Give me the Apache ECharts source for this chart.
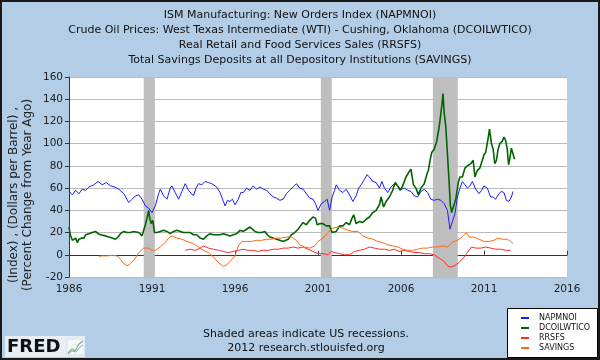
<!DOCTYPE html>
<html><head><meta charset="utf-8">
<script src="https://cdn.jsdelivr.net/npm/echarts@6/dist/echarts.min.js"></script>
<style>html,body{margin:0;padding:0;background:#B4CDE6}#c{width:600px;height:360px}</style>
</head><body><div id="c"></div>
<script>
const titleLines = [
  'ISM Manufacturing: New Orders Index (NAPMNOI)',
  'Crude Oil Prices: West Texas Intermediate (WTI) - Cushing, Oklahoma (DCOILWTICO)',
  'Real Retail and Food Services Sales (RRSFS)',
  'Total Savings Deposits at all Depository Institutions (SAVINGS)'
];
const seriesNames = ['NAPMNOI', 'DCOILWTICO', 'RRSFS', 'SAVINGS'];
const baseYear = 1986;
const endYear = 2016;
const recessions = [[1990.5, 1991.17], [2001.17, 2001.83], [2007.92, 2009.42]];

const napmnoi = [[1986.0,57],[1986.2,54],[1986.4,58],[1986.6,55],[1986.8,59],[1987.0,58],[1987.2,61],[1987.5,63],[1987.75,66],[1988.0,63],[1988.25,65],[1988.5,62],[1988.75,61],[1989.0,59],[1989.3,55],[1989.6,47],[1989.8,50],[1990.0,53],[1990.2,54],[1990.4,50],[1990.6,44],[1990.8,42],[1991.0,38],[1991.2,44],[1991.4,55],[1991.5,59],[1991.7,53],[1991.9,50],[1992.1,60],[1992.2,62],[1992.4,56],[1992.6,50],[1992.8,57],[1993.0,64],[1993.2,58],[1993.5,53],[1993.65,60],[1993.8,64],[1994.0,63],[1994.2,66],[1994.4,65],[1994.6,64],[1994.9,61],[1995.1,56],[1995.3,48],[1995.4,44],[1995.55,49],[1995.7,48],[1995.85,50],[1996.0,45],[1996.2,50],[1996.35,56],[1996.5,56],[1996.7,60],[1996.9,58],[1997.1,62],[1997.3,59],[1997.5,61],[1997.7,59],[1997.9,58],[1998.1,55],[1998.3,52],[1998.5,51],[1998.7,49],[1998.9,50],[1999.1,55],[1999.3,58],[1999.5,61],[1999.7,64],[1999.9,60],[2000.1,59],[2000.3,55],[2000.5,51],[2000.7,50],[2000.85,46],[2001.0,40],[2001.2,46],[2001.4,48],[2001.55,50],[2001.7,40],[2001.85,52],[2002.0,58],[2002.1,63],[2002.3,58],[2002.5,56],[2002.7,59],[2002.9,54],[2003.1,48],[2003.3,53],[2003.45,60],[2003.6,63],[2003.8,68],[2003.95,72],[2004.1,70],[2004.3,66],[2004.5,65],[2004.7,60],[2004.85,66],[2005.0,60],[2005.2,56],[2005.4,61],[2005.6,64],[2005.8,62],[2006.0,59],[2006.2,60],[2006.4,58],[2006.6,57],[2006.8,53],[2007.0,52],[2007.2,57],[2007.4,59],[2007.6,56],[2007.8,50],[2008.0,49],[2008.2,50],[2008.4,49],[2008.6,46],[2008.8,40],[2008.95,23],[2009.1,30],[2009.25,37],[2009.4,52],[2009.55,60],[2009.7,66],[2009.85,63],[2010.0,60],[2010.15,62],[2010.3,66],[2010.5,59],[2010.7,55],[2010.85,58],[2011.0,62],[2011.2,60],[2011.4,52],[2011.55,52],[2011.7,50],[2011.9,55],[2012.05,57],[2012.2,56],[2012.35,49],[2012.5,48],[2012.65,52],[2012.75,57]];

const dcoilwtico = [[1986.0,25],[1986.08,18],[1986.2,13],[1986.3,12],[1986.4,15],[1986.5,11],[1986.6,14],[1986.75,15],[1986.9,15],[1987.0,18],[1987.2,19],[1987.4,20],[1987.6,21],[1987.75,19],[1987.9,18],[1988.0,17],[1988.2,17],[1988.4,16],[1988.6,15],[1988.8,14],[1988.95,16],[1989.1,19],[1989.3,21],[1989.5,20],[1989.7,20],[1989.9,21],[1990.0,22],[1990.2,20],[1990.4,17],[1990.5,17],[1990.6,27],[1990.7,33],[1990.8,40],[1990.85,34],[1990.95,28],[1991.05,31],[1991.15,20],[1991.3,20],[1991.5,21],[1991.7,22],[1991.9,21],[1992.1,19],[1992.3,21],[1992.5,22],[1992.7,21],[1992.9,20],[1993.1,20],[1993.3,20],[1993.5,18],[1993.7,18],[1993.9,15],[1994.1,14],[1994.3,17],[1994.5,19],[1994.7,18],[1994.9,18],[1995.1,18],[1995.3,19],[1995.5,18],[1995.7,17],[1995.9,18],[1996.1,19],[1996.3,22],[1996.5,21],[1996.7,23],[1996.9,25],[1997.0,25],[1997.2,21],[1997.4,20],[1997.6,20],[1997.8,21],[1997.95,18],[1998.1,16],[1998.3,15],[1998.5,14],[1998.7,13],[1998.9,12],[1999.0,12],[1999.2,14],[1999.4,18],[1999.6,20],[1999.8,23],[1999.95,26],[2000.1,29],[2000.3,27],[2000.5,31],[2000.7,34],[2000.85,33],[2000.95,27],[2001.1,28],[2001.3,28],[2001.5,26],[2001.7,26],[2001.85,20],[2001.95,19],[2002.1,21],[2002.3,26],[2002.5,26],[2002.7,29],[2002.9,27],[2003.05,33],[2003.15,36],[2003.3,28],[2003.5,30],[2003.7,29],[2003.9,32],[2004.1,34],[2004.3,38],[2004.5,40],[2004.7,45],[2004.8,52],[2004.95,43],[2005.1,48],[2005.3,52],[2005.5,58],[2005.65,65],[2005.8,62],[2005.95,58],[2006.1,62],[2006.3,70],[2006.5,75],[2006.6,77],[2006.75,63],[2006.9,60],[2007.05,54],[2007.2,60],[2007.4,64],[2007.55,72],[2007.65,76],[2007.75,85],[2007.85,92],[2008.0,95],[2008.15,102],[2008.3,115],[2008.4,127],[2008.5,140],[2008.53,145],[2008.6,128],[2008.7,115],[2008.8,90],[2008.9,65],[2008.97,45],[2009.05,38],[2009.15,43],[2009.3,50],[2009.45,65],[2009.55,70],[2009.7,70],[2009.85,78],[2010.0,80],[2010.2,82],[2010.35,85],[2010.45,70],[2010.6,76],[2010.75,78],[2010.9,85],[2011.0,90],[2011.1,92],[2011.25,105],[2011.33,113],[2011.45,100],[2011.55,95],[2011.65,82],[2011.75,85],[2011.85,95],[2011.95,100],[2012.1,102],[2012.2,106],[2012.3,103],[2012.4,95],[2012.48,81],[2012.55,86],[2012.65,96],[2012.72,97],[2012.8,88],[2012.85,86]];

const rrsfs = [[1993.0,4],[1993.3,5],[1993.6,4],[1993.9,6],[1994.1,8],[1994.4,6],[1994.7,5],[1995.0,4],[1995.3,3],[1995.6,2],[1995.9,3],[1996.2,4],[1996.5,5],[1996.8,4],[1997.1,4],[1997.4,3],[1997.7,4],[1998.0,4],[1998.3,5],[1998.6,5],[1998.9,6],[1999.2,6],[1999.5,7],[1999.8,6],[2000.1,7],[2000.4,5],[2000.7,3],[2001.0,1],[2001.3,1],[2001.6,0],[2001.8,3],[2002.0,2],[2002.3,1],[2002.6,0],[2002.9,0],[2003.2,3],[2003.5,4],[2003.8,5],[2004.1,7],[2004.4,6],[2004.7,5],[2005.0,5],[2005.3,4],[2005.6,5],[2005.9,3],[2006.2,4],[2006.5,3],[2006.8,2],[2007.1,2],[2007.4,1],[2007.7,1],[2008.0,0],[2008.3,-3],[2008.6,-6],[2008.8,-10],[2009.0,-11],[2009.2,-10],[2009.5,-7],[2009.8,-2],[2010.0,2],[2010.25,7],[2010.5,6],[2010.8,6],[2011.1,7],[2011.4,6],[2011.7,5],[2012.0,5],[2012.3,4],[2012.6,4]];

const savings = [[1987.8,-1.5],[1988.0,-1],[1988.3,-1],[1988.6,-0.5],[1988.9,-1],[1989.1,-4],[1989.3,-8],[1989.5,-10],[1989.7,-8],[1990.0,-3],[1990.2,2],[1990.5,6],[1990.8,6],[1991.0,4],[1991.2,4],[1991.5,7],[1991.8,11],[1992.0,15],[1992.2,17],[1992.5,15],[1992.8,14],[1993.1,12],[1993.5,10],[1993.8,7],[1994.1,4],[1994.4,2],[1994.7,-2],[1995.0,-7],[1995.3,-10.5],[1995.5,-9],[1995.7,-6],[1996.0,-1],[1996.2,8],[1996.4,12],[1996.7,12],[1997.0,12],[1997.3,13],[1997.6,13],[1997.9,14],[1998.2,14],[1998.5,15],[1998.8,15],[1999.1,16],[1999.4,16],[1999.7,13],[1999.9,9],[2000.2,7],[2000.5,6],[2000.8,8],[2001.0,12],[2001.3,15],[2001.6,20],[2001.9,24],[2002.2,25],[2002.5,24],[2002.8,22],[2003.1,21],[2003.4,21],[2003.7,17],[2004.0,15],[2004.3,14],[2004.6,12],[2004.9,11],[2005.2,9],[2005.5,8],[2005.8,7],[2006.1,5],[2006.4,4],[2006.7,4],[2007.0,5],[2007.3,6],[2007.6,6],[2007.9,7],[2008.2,7],[2008.5,8],[2008.8,7],[2009.0,10],[2009.2,12],[2009.4,13],[2009.6,15],[2009.8,18],[2009.95,20],[2010.1,16],[2010.4,16],[2010.7,14],[2011.0,12],[2011.3,12],[2011.6,13],[2011.8,15],[2012.1,14],[2012.4,14],[2012.6,12],[2012.75,10]];

const footerLines = ['Shaded areas indicate US recessions.', '2012 research.stlouisfed.org'];
const yAxisTitle = ['(Index) , (Dollars per Barrel) ,', '(Percent Change from Year Ago)'];

const seriesData = [napmnoi, dcoilwtico, rrsfs, savings];
const colors = ['#1a1aff', '#006400', '#ff2a2a', '#ff6a10'];
const widths = [1, 1.6, 1, 1];
const FONT = 'DejaVu Sans';

const shift = d => d.map(p => [p[0] - baseYear, p[1]]);

const chart = echarts.init(document.getElementById('c'), null, {renderer: 'canvas'});
const series = seriesData.map((d, i) => ({
  name: seriesNames[i], type: 'line', data: shift(d), symbol: 'none',
  lineStyle: {color: colors[i], width: widths[i]}, itemStyle: {color: colors[i]},
  z: 3 + i, silent: true
}));
series.unshift({
  name: 'rec', type: 'line', data: [], z: 1, silent: true,
  markArea: {silent: true, itemStyle: {color: '#BEBEBE', opacity: 1},
    data: recessions.map(r => [{xAxis: r[0] - baseYear}, {xAxis: r[1] - baseYear}])}
});

chart.setOption({
  animation: false,
  backgroundColor: '#B4CDE6',
  title: {
    text: titleLines.join('\n'), left: 'center', top: 3,
    textStyle: {fontFamily: FONT, fontSize: 11, fontWeight: 'normal', color: '#111', lineHeight: 15}
  },
  grid: {left: 69, right: 33, top: 77, bottom: 83, backgroundColor: '#fff', show: true, borderWidth: 0},
  legend: {
    data: seriesNames, orient: 'vertical', left: 516, top: 309, z: 10,
    icon: 'rect', itemWidth: 8, itemHeight: 2, itemGap: 2,
    textStyle: {fontFamily: FONT, fontSize: 8, color: '#111', lineHeight: 8, padding: [0, 0, 0, 5]},
    selectedMode: false
  },
  xAxis: {
    type: 'value', min: 0, max: endYear - baseYear, interval: 5,
    axisLine: {lineStyle: {color: '#333', width: 1}},
    axisTick: {inside: true, length: 4, lineStyle: {color: '#333'}},
    axisLabel: {formatter: v => String(v + baseYear), fontFamily: FONT, fontSize: 10.5, color: '#222', margin: 7},
    splitLine: {show: false}
  },
  yAxis: {
    type: 'value', min: -20, max: 160, interval: 20,
    axisLine: {show: true, lineStyle: {color: '#333', width: 1}},
    axisTick: {show: true, length: 4, lineStyle: {color: '#333'}},
    axisLabel: {fontFamily: FONT, fontSize: 10.5, color: '#222', margin: 6},
    splitLine: {lineStyle: {color: '#BBBBBB', width: 1}}
  },
  graphic: [
    {type: 'rect', z: 0, silent: true, shape: {x: 1, y: 1, width: 598, height: 358}, style: {fill: 'none', stroke: '#1a1a1a', lineWidth: 2}},
    {type: 'rect', z: 1, silent: true, shape: {x: 507.5, y: 308.5, width: 90, height: 49}, style: {fill: '#fff', stroke: '#000', lineWidth: 1}},
    {type: 'text', silent: true, x: 14, y: 195, rotation: Math.PI / 2, style: {text: yAxisTitle[0], font: '12px "DejaVu Sans"', fill: '#222', textAlign: 'center', textVerticalAlign: 'middle'}},
    {type: 'text', silent: true, x: 28, y: 195, rotation: Math.PI / 2, style: {text: yAxisTitle[1], font: '12px "DejaVu Sans"', fill: '#222', textAlign: 'center', textVerticalAlign: 'middle'}},
    {type: 'text', silent: true, x: 306, y: 334, style: {text: footerLines[0], font: '11px "DejaVu Sans"', fill: '#111', textAlign: 'center', textVerticalAlign: 'middle'}},
    {type: 'text', silent: true, x: 306, y: 348, style: {text: footerLines[1], font: '11px "DejaVu Sans"', fill: '#111', textAlign: 'center', textVerticalAlign: 'middle'}},
    {type: 'rect', silent: true, shape: {x: 5, y: 336, width: 80, height: 21}, style: {fill: '#e9eef4'}},
    {type: 'text', silent: true, x: 7, y: 347, style: {text: 'FRED', font: '900 18px "DejaVu Sans"', fill: '#111', textVerticalAlign: 'middle'}},
    {type: 'rect', silent: true, shape: {x: 67, y: 339, width: 17, height: 16}, style: {fill: '#f4f6f8', stroke: '#ccd', lineWidth: 0.5}},
    {type: 'polyline', silent: true, shape: {points: [[68, 353], [72, 349], [75, 351], [79, 344], [83, 341]]}, style: {stroke: '#7fb27f', lineWidth: 1.2, fill: 'none'}},
    {type: 'polyline', silent: true, shape: {points: [[68, 354], [72, 351], [76, 352], [80, 347], [83, 345]]}, style: {stroke: '#8fa8cf', lineWidth: 1, fill: 'none'}}
  ],
  series: series
});
</script></body></html>
